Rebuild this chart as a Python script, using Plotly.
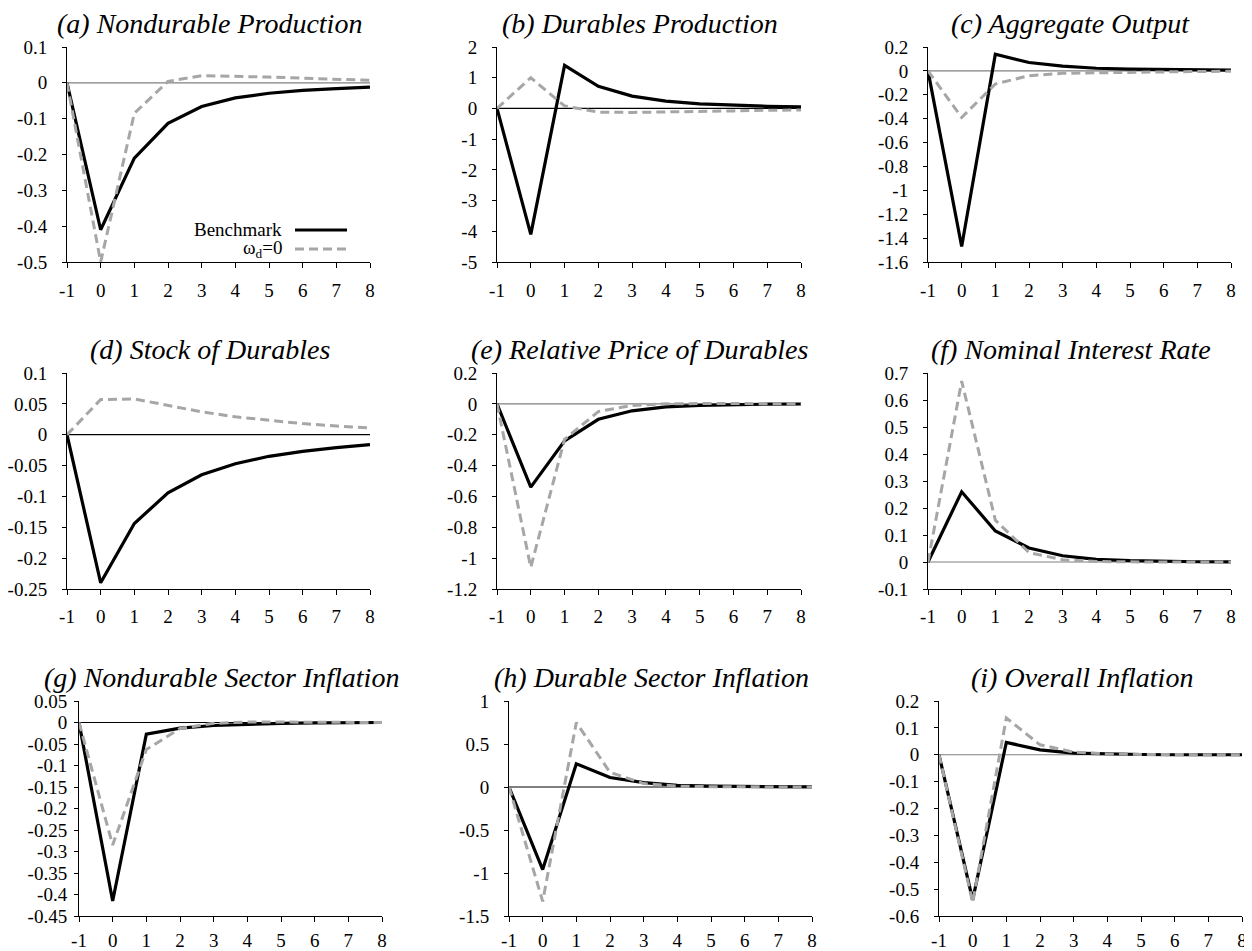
import plotly.graph_objects as go

W, H = 1252, 951
OFF = 8                      # default page margin of the browser body
FW, FH = W - OFF, H - OFF    # figure size so that it fills the window

periods = [-1, 0, 1, 2, 3, 4, 5, 6, 7, 8]

titles = [
    "(a) Nondurable Production", "(b) Durables Production", "(c) Aggregate Output",
    "(d) Stock of Durables", "(e) Relative Price of Durables", "(f) Nominal Interest Rate",
    "(g) Nondurable Sector Inflation", "(h) Durable Sector Inflation", "(i) Overall Inflation",
]

bench_a = [0, -0.41, -0.21, -0.113, -0.066, -0.042, -0.029, -0.021, -0.016, -0.012]
omega_a = [0, -0.50, -0.085, 0.004, 0.020, 0.019, 0.016, 0.013, 0.010, 0.007]
bench_b = [0, -4.1, 1.4, 0.72, 0.40, 0.24, 0.15, 0.10, 0.07, 0.05]
omega_b = [0, 1.0, 0.08, -0.12, -0.13, -0.12, -0.10, -0.08, -0.06, -0.05]
bench_c = [0, -1.47, 0.14, 0.07, 0.04, 0.022, 0.015, 0.010, 0.008, 0.006]
omega_c = [0, -0.39, -0.11, -0.04, -0.02, -0.015, -0.010, -0.007, -0.005, -0.003]
bench_d = [0, -0.24, -0.144, -0.094, -0.065, -0.047, -0.035, -0.027, -0.021, -0.016]
omega_d = [0, 0.057, 0.058, 0.047, 0.037, 0.029, 0.023, 0.018, 0.014, 0.011]
bench_e = [0, -0.54, -0.24, -0.10, -0.045, -0.020, -0.010, -0.005, -0.002, -0.001]
omega_e = [0, -1.06, -0.23, -0.05, -0.010, 0.000, 0.002, 0.002, 0.001, 0.001]
bench_f = [0, 0.26, 0.115, 0.052, 0.023, 0.010, 0.005, 0.002, 0.001, 0.0005]
omega_f = [0, 0.67, 0.155, 0.035, 0.008, 0.002, 0.0005, 0, 0, 0]
bench_g = [0, -0.415, -0.027, -0.013, -0.007, -0.004, -0.002, -0.001, -0.001, 0]
omega_g = [0, -0.285, -0.063, -0.014, -0.002, 0.001, 0.001, 0.0005, 0, 0]
bench_h = [0, -0.96, 0.27, 0.11, 0.05, 0.02, 0.01, 0.005, 0.002, 0.001]
omega_h = [0, -1.33, 0.75, 0.17, 0.04, 0.01, 0.003, 0.001, 0, 0]
bench_i = [0, -0.54, 0.046, 0.018, 0.006, 0.002, 0.001, 0, 0, 0]
omega_i = [0, -0.55, 0.137, 0.037, 0.010, 0.003, 0.001, 0, 0, 0]

benchmarks = [bench_a, bench_b, bench_c, bench_d, bench_e, bench_f, bench_g, bench_h, bench_i]
omegas = [omega_a, omega_b, omega_c, omega_d, omega_e, omega_f, omega_g, omega_h, omega_i]

yticks_a = [0.1, 0, -0.1, -0.2, -0.3, -0.4, -0.5]
yticks_b = [2, 1, 0, -1, -2, -3, -4, -5]
yticks_c = [0.2, 0, -0.2, -0.4, -0.6, -0.8, -1, -1.2, -1.4, -1.6]
yticks_d = [0.1, 0.05, 0, -0.05, -0.1, -0.15, -0.2, -0.25]
yticks_e = [0.2, 0, -0.2, -0.4, -0.6, -0.8, -1, -1.2]
yticks_f = [0.7, 0.6, 0.5, 0.4, 0.3, 0.2, 0.1, 0, -0.1]
yticks_g = [0.05, 0, -0.05, -0.1, -0.15, -0.2, -0.25, -0.3, -0.35, -0.4, -0.45]
yticks_h = [1, 0.5, 0, -0.5, -1, -1.5]
yticks_i = [0.2, 0.1, 0, -0.1, -0.2, -0.3, -0.4, -0.5, -0.6]
yticks_all = [yticks_a, yticks_b, yticks_c, yticks_d, yticks_e, yticks_f, yticks_g, yticks_h, yticks_i]

series_names = ["Benchmark", "ω<sub>d</sub>=0"]

# layout (screen pixels)
col_px = [[(67, 370), (497, 801), (928, 1231)],
          [(67, 370), (497, 801), (928, 1231)],
          [(79, 382), (509, 812), (939, 1242)]]
row_px = [(47, 262), (373, 589), (701, 916)]
xlabel_gap = [6, 5, 2]
zero_colors = ["#808080", "#000000", "#808080",
               "#000000", "#808080", "#808080",
               "#000000", "#000000", "#808080"]
ylabel_gap = [11, 11, 11, 11, 11, 11, 3, 11, 11]

BLACK = "#000000"
GRAY = "#A6A6A6"
FONT = "Liberation Serif, Times New Roman, serif"


def px_x(p):
    return (p - OFF) / FW


def px_y(p):
    return 1 - (p - OFF) / FH


def fmt(v):
    return f"{v:g}"


fig = go.Figure()
annotations = []
shapes = []

for k in range(9):
    r, c = divmod(k, 3)
    x0, x1 = col_px[r][c]
    y0, y1 = row_px[r]
    idx = "" if k == 0 else str(k + 1)
    xa, ya = "x" + idx, "y" + idx
    fig.add_trace(go.Scatter(x=periods, y=benchmarks[k], mode="lines",
                             line=dict(color=BLACK, width=3.2), xaxis=xa, yaxis=ya,
                             showlegend=False, name="Benchmark"))
    fig.add_trace(go.Scatter(x=periods, y=omegas[k], mode="lines",
                             line=dict(color=GRAY, width=3, dash="9px,5px"), xaxis=xa, yaxis=ya,
                             showlegend=False, name="ωd=0"))
    yt = yticks_all[k]
    axis_common = dict(showgrid=False, zeroline=False, showline=True, linecolor=BLACK, linewidth=1,
                       ticks="outside", ticklen=5, tickcolor=BLACK, tickwidth=1, automargin=False,
                       tickfont=dict(family=FONT, size=19, color=BLACK))
    fig.layout["xaxis" + idx] = dict(axis_common, domain=[px_x(x0), px_x(x1)], anchor=ya,
                                     range=[-1, 8], tickvals=periods,
                                     ticktext=[fmt(p) for p in periods],
                                     ticklabelstandoff=xlabel_gap[r])
    fig.layout["yaxis" + idx] = dict(axis_common, domain=[px_y(y1), px_y(y0)], anchor=xa,
                                     range=[min(yt), max(yt)], tickvals=yt,
                                     ticktext=[fmt(v) for v in yt],
                                     ticklabelstandoff=ylabel_gap[k], ticklen=4)
    shapes.append(dict(type="line", xref=xa, yref=ya, x0=-1, x1=8, y0=0, y1=0,
                       line=dict(color=zero_colors[k], width=1.2), layer="below"))
    annotations.append(dict(text=titles[k], xref="paper", yref="paper",
                            x=px_x((x0 + x1) / 2 - 9), y=px_y(y0 - 6),
                            xanchor="center", yanchor="bottom", showarrow=False,
                            font=dict(family=FONT, size=28, color=BLACK, style="italic")))

# legend inside panel (a)
for j, (name, col, dash) in enumerate([(series_names[0], BLACK, "solid"), (series_names[1], GRAY, "9px,5px")]):
    ypx = 230 + 19 * j
    annotations.append(dict(text=name, xref="paper", yref="paper", x=px_x(284), y=px_y(ypx),
                            xanchor="right", yanchor="middle", showarrow=False,
                            font=dict(family=FONT, size=19, color=BLACK)))
    shapes.append(dict(type="line", xref="paper", yref="paper", x0=px_x(295), x1=px_x(347),
                       y0=px_y(ypx), y1=px_y(ypx), line=dict(color=col, width=3, dash=dash)))

fig.update_layout(width=FW, height=FH, margin=dict(l=0, r=0, t=0, b=0),
                  paper_bgcolor="white", plot_bgcolor="white",
                  annotations=annotations, shapes=shapes, showlegend=False)

fig.write_html("out.html")
